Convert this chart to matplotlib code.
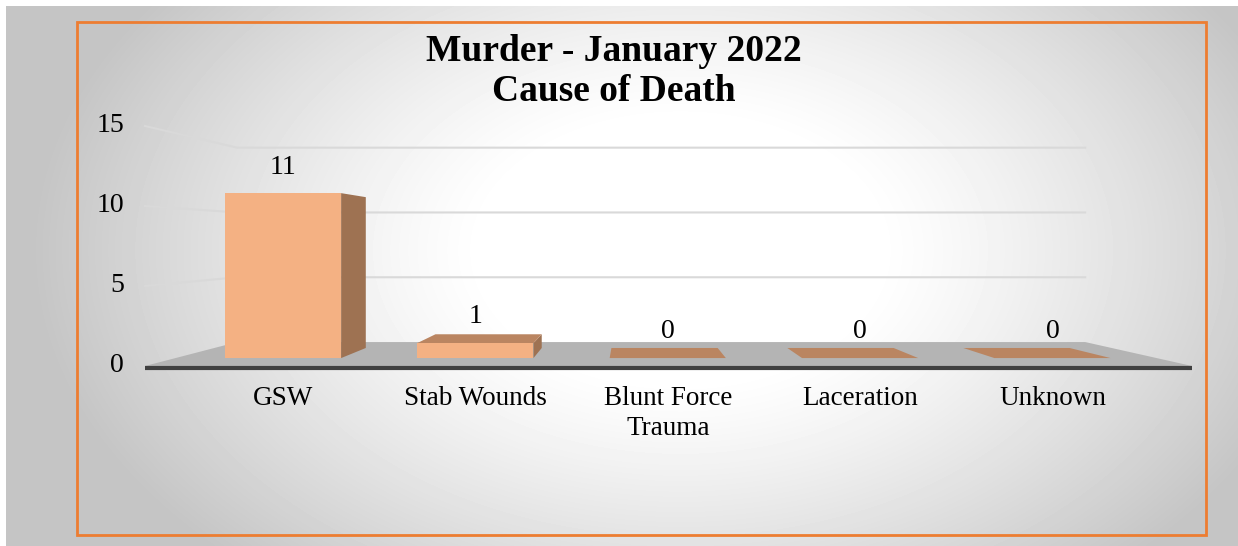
import numpy as np
import matplotlib.pyplot as plt
from matplotlib.patches import Polygon, Rectangle

categories = ["GSW", "Stab Wounds", "Blunt Force\nTrauma", "Laceration", "Unknown"]
counts = [11, 1, 0, 0, 0]
yticks = [0, 5, 10, 15]
title = "Murder - January 2022\nCause of Death"

front_color = '#F4B183'
side_color = '#9E7252'
top_color = '#BA8561'
floor_color = '#B4B4B4'
grid_color = '#D9D9D9'

plt.rcParams['font.family'] = ['Liberation Serif', 'DejaVu Serif']

# data units: x = category index, y = value (front plane of the floor)
def px2d(px, py):
    return (px - 259.7) / 205.3, (366 - py) / 16.0

# fake 3d: points move toward a vanishing point with depth t
VPX, VPY = px2d(630, 240)
T1, T2, TF = 0.063, 0.143, 0.19
HW = 0.302
FL = px2d(145, 0)[0]
FR = px2d(1192, 0)[0]

def proj(x, y, t):
    return x + t * (VPX - x), y + t * (VPY - y)

fig = plt.figure(figsize=(12.38, 5.46), dpi=100)
fig.patch.set_facecolor('white')
ax = fig.add_axes([0, 0, 1, 1])
ax.set_xlim(px2d(0, 0)[0], px2d(1238, 0)[0])
ax.set_ylim(px2d(0, 546)[1], px2d(0, 0)[1])
ax.axis('off')

# radial gray background, white in the middle
gx, gy = np.meshgrid(np.arange(6, 1238), np.arange(6, 546))
r = np.sqrt(((gx - 680) / 650.0) ** 2 + ((gy - 250) / 430.0) ** 2)
g = 1 - 0.23 * np.clip((r - 0.3) / 0.7, 0, 1) ** 1.2
x0, y0 = px2d(6, 6)
x1, y1 = px2d(1238, 546)
ax.imshow(g, cmap='gray', vmin=0, vmax=1, extent=[x0, x1, y1, y0],
          origin='upper', aspect='auto', zorder=0, interpolation='bilinear')

# orange frame
bx0, by0 = px2d(77, 535)
bx1, by1 = px2d(1206, 22)
ax.add_patch(Rectangle((bx0, by0), bx1 - bx0, by1 - by0, fill=False,
                       ec='#ED7D31', lw=2, zorder=1))

# floor
floor = [proj(FL, 0, 0), proj(FR, 0, 0), proj(FR, 0, TF), proj(FL, 0, TF)]
ax.add_patch(Polygon(floor, closed=True, fc=floor_color, ec='none', zorder=2))

# gridlines: left wall + back wall
for v in yticks[1:]:
    pts = [proj(FL, v, 0), proj(FL, v, TF), proj(FR, v, TF)]
    ax.plot([p[0] for p in pts], [p[1] for p in pts], color=grid_color, lw=1.5, zorder=2)

for v in yticks:
    ax.text(px2d(124, 0)[0], v, str(v), ha='right', va='center', fontsize=20, color='#000000')

# axis line
ax.plot([FL, FR], [-0.1, -0.1], color='#404040', lw=3, solid_capstyle='butt', zorder=3)

for c, v in enumerate(counts):
    xl, xr = c - HW, c + HW
    if xr < VPX:
        side = [proj(xr, 0, T1), proj(xr, v, T1), proj(xr, v, T2), proj(xr, 0, T2)]
        ax.add_patch(Polygon(side, closed=True, fc=side_color, ec='none', zorder=4))
    elif xl > VPX:
        side = [proj(xl, 0, T1), proj(xl, v, T1), proj(xl, v, T2), proj(xl, 0, T2)]
        ax.add_patch(Polygon(side, closed=True, fc=side_color, ec='none', zorder=4))
    if v < VPY:
        top = [proj(xl, v, T1), proj(xr, v, T1), proj(xr, v, T2), proj(xl, v, T2)]
        ax.add_patch(Polygon(top, closed=True, fc=top_color, ec='none', zorder=4))

# front faces
fx = [proj(c - HW, 0, T1)[0] for c in range(len(counts))]
fb = proj(0, 0, T1)[1]
fh = [v * (1 - T1) for v in counts]
ax.bar(fx, fh, width=2 * HW * (1 - T1), bottom=fb, align='edge', color=front_color, zorder=5)

for c, v in enumerate(counts):
    cx, fy = proj(c, v, T1)
    ax.text(cx, fy + 1.63, str(v), ha='center', va='center', fontsize=20, zorder=6)
    ax.text(cx, px2d(0, 386)[1], categories[c], ha='center', va='top', fontsize=19.5,
            linespacing=1.25, zorder=6)

tx, ty = px2d(614, 34)
ax.text(tx, ty, title, ha='center', va='top', fontsize=27, fontweight='bold',
        linespacing=1.18, zorder=6)

plt.savefig('out.png', dpi=100)
